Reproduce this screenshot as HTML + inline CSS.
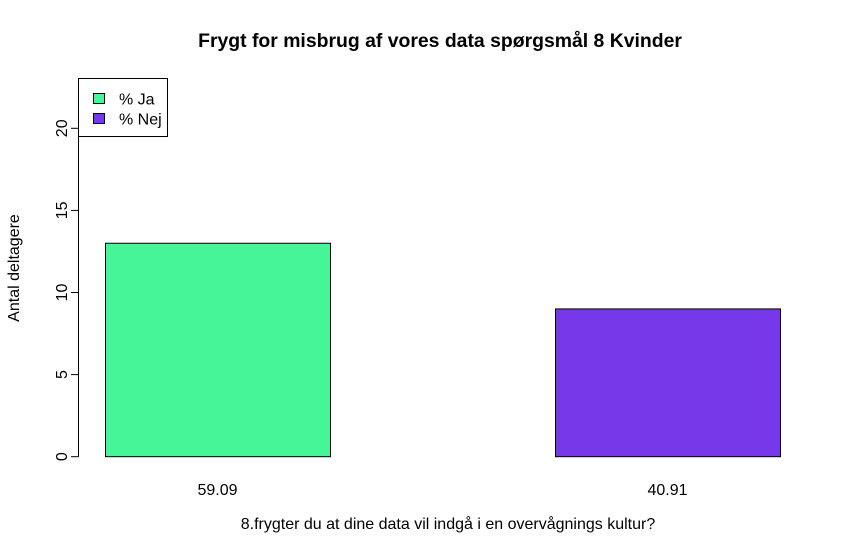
<!DOCTYPE html>
<html><head><meta charset="utf-8"><style>body{margin:0;background:#fff}svg{display:block;font-family:"Liberation Sans",Arial,sans-serif}</style></head>
<body>
<svg id="c" width="848" height="555">
<text x="440" y="47" text-anchor="middle" font-size="19.4" font-weight="bold">Frygt for misbrug af vores data spørgsmål 8 Kvinder</text>
<text transform="translate(19,268) rotate(-90)" text-anchor="middle" font-size="16">Antal deltagere</text>
<text x="448" y="529" text-anchor="middle" font-size="16">8.frygter du at dine data vil indgå i en overvågnings kultur?</text>
<g id="yaxis"></g>
<g id="bars"></g>
<g>
<rect x="78.5" y="78.5" width="89" height="58" fill="#fff" stroke="#000"/>
<rect x="93.5" y="93.5" width="11" height="10" fill="#45f597" stroke="#000"/>
<text x="119" y="104.5" font-size="16">% Ja</text>
<rect x="93.5" y="113.5" width="11" height="10" fill="#7638e9" stroke="#000"/>
<text x="119" y="124.5" font-size="16">% Nej</text>
</g>
</svg>
<script>
const categories=["59.09","40.91"];
const values=[13,9];
const colors=["#45f597","#7638e9"];
const yTicks=[0,5,10,15,20];
const NS="http://www.w3.org/2000/svg";
function y(v){return 456.7-v*16.42;}
function bx(i){return 105+i*450;}
const bw=225;
const ya=document.getElementById('yaxis'),bg=document.getElementById('bars');
function mk(t,a,p){const e=document.createElementNS(NS,t);for(const k in a)e.setAttribute(k,a[k]);p.appendChild(e);return e;}
const al=mk('line',{x1:78.5,x2:78.5,y1:y(0),y2:y(20),stroke:'#000'},ya);


yTicks.forEach(t=>{
 const l=mk('line',{x1:71,x2:78.5,y1:y(t),y2:y(t),stroke:'#000'},ya);
 
 
 const tx=mk('text',{transform:`translate(67,${y(t)}) rotate(-90)`,'text-anchor':'middle','font-size':16},ya);
 tx.textContent=t;
 
 
});
values.forEach((v,i)=>{
 const r=mk('rect',{x:bx(i)+0.5,y:y(v),width:bw,height:y(0)-y(v),fill:colors[i],stroke:'#000'},bg);
 
 
 const tx=mk('text',{x:bx(i)+bw/2,y:495,'text-anchor':'middle','font-size':16},bg);
 tx.textContent=categories[i];
 
 
});
</script>
</body></html>
